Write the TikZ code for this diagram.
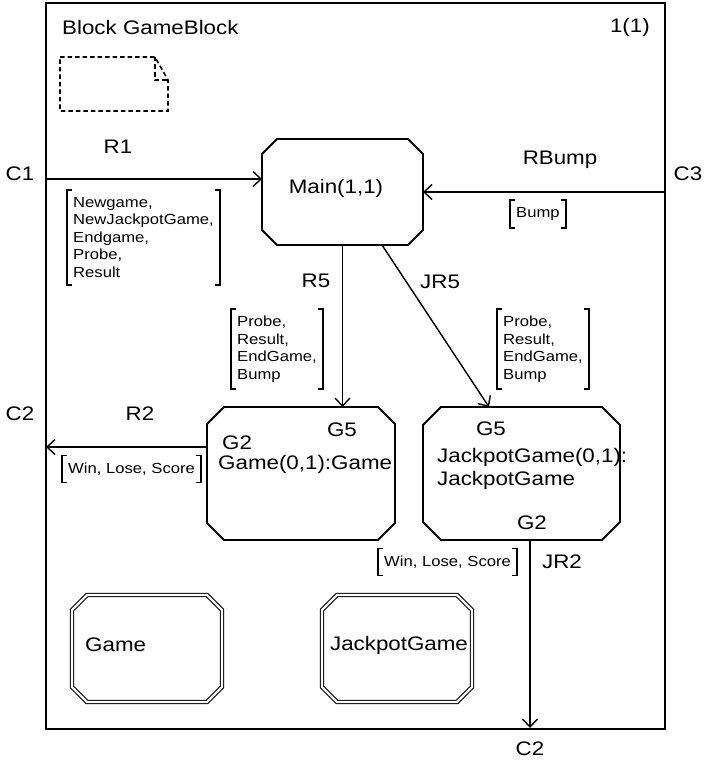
\documentclass[tikz,border=0pt]{standalone}
\usepackage{fontspec}
\setmainfont{Liberation Sans}[FakeStretch=1.14]
\usetikzlibrary{arrows.meta}
\newcommand\octdraw[3][]{%
  \draw[#1] ([xshift=#3pt]#2.north west) -- ([xshift=-#3pt]#2.north east)
    -- ([yshift=-#3pt]#2.north east) -- ([yshift=#3pt]#2.south east)
    -- ([xshift=-#3pt]#2.south east) -- ([xshift=#3pt]#2.south west)
    -- ([yshift=#3pt]#2.south west) -- ([yshift=-#3pt]#2.north west) -- cycle;}
\newcommand\sigbrackets[1]{%
  \draw[brk] ([xshift=5pt]#1.north west) -- (#1.north west) -- (#1.south west) -- ([xshift=5pt]#1.south west);
  \draw[brk] ([xshift=-5pt]#1.north east) -- (#1.north east) -- (#1.south east) -- ([xshift=-5pt]#1.south east);}
\tikzset{
  big/.style={font=\fontsize{19.6}{22}\selectfont, inner sep=0pt},
  small/.style={font=\fontsize{14.6}{17.5}\selectfont},
  boxline/.style={line width=1.8pt, line join=miter},
  dbl/.style={double, line width=1.1pt, double distance=2.2pt},
  frameline/.style={line width=2pt},
  sig/.style={line width=1.4pt, -{Straight Barb[length=8pt,width=15pt]}},
  siglist/.style={small, align=left, inner xsep=6pt, inner ysep=7pt, anchor=west},
  brk/.style={line width=1.6pt},
  area/.style={draw=none, inner sep=0pt, outer sep=0pt},
  notebox/.style={line width=1.6pt, dash pattern=on 4.5pt off 3pt},
}
\begin{document}
\begin{tikzpicture}[x=1pt,y=-1pt]
\fill[white] (0,0) rectangle (709,760);
\useasboundingbox (0,0) rectangle (709,760);
% frame
\node[draw, frameline, area, draw, minimum width=619pt, minimum height=725pt] (frame) at (355.5,366) {};
\node[big, anchor=west] (title) at (62,27) {Block GameBlock};
\node[big, anchor=east] (page) at (650,27) {1(1)};
% note symbol
\draw[notebox] (60,57) -- (155,57) -- (168,80) -- (168,111) -- (60,111) -- cycle;
\draw[notebox] (155,57) -- (155,80) -- (168,80);
% process and block areas
\node[area, minimum width=161pt, minimum height=106pt] (main) at (342.5,192) {};
\node[area, minimum width=188pt, minimum height=133pt] (game) at (301,473.5) {};
\node[area, minimum width=197pt, minimum height=133pt] (jack) at (521.5,473.5) {};
\node[area, minimum width=150pt, minimum height=107pt] (gcls) at (147,648.5) {};
\node[area, minimum width=150pt, minimum height=107pt] (jcls) at (397,648.5) {};
\octdraw[boxline]{main}{15}
\octdraw[boxline]{game}{17}
\octdraw[boxline]{jack}{18}
\octdraw[dbl]{gcls}{15}
\octdraw[dbl]{jcls}{15}
% texts in boxes
\node[big] (maintxt) at (336,188) {Main(1,1)};
\node[big] (gG5) at (342,430) {G5};
\node[big, anchor=west] (gG2) at (222,443) {G2};
\node[big, anchor=west] (gname) at (218,464) {Game(0,1):Game};
\node[big] (jG5) at (491,429) {G5};
\node[big, anchor=west] (jname1) at (437,457) {JackpotGame(0,1):};
\node[big, anchor=west] (jname2) at (437,480) {JackpotGame};
\node[big] (jG2) at (532,523) {G2};
\node[big, anchor=west] (gclstxt) at (85,645) {Game};
\node[big] (jclstxt) at (399,645) {JackpotGame};
% channel end points
\coordinate (c1p) at (46,179);
\coordinate (c3p) at (665,192);
\coordinate (c2p) at (46,447);
\coordinate (c2b) at (530,728);
% connectors
\draw[sig] (c1p) -- (c1p -| main.west);
\draw[sig] (c3p) -- (c3p -| main.east);
\draw[sig] (main.south) -- (main.south |- game.north);
\draw[sig] ([xshift=39.5pt]main.south) -- ([xshift=-32.5pt]jack.north);
\draw[sig] (c2p -| game.west) -- (c2p);
\draw[sig] (jack.south -| c2b) -- (c2b);
% channel names
\node[big] (C1) at (20,174) {C1};
\node[big] (R1) at (118,147) {R1};
\node[big] (RBump) at (560,160) {RBump};
\node[big] (C3) at (688,174) {C3};
\node[big] (R5) at (316,281) {R5};
\node[big, anchor=west] (JR5) at (420,282) {JR5};
\node[big] (R2) at (140,414) {R2};
\node[big] (C2a) at (20,414) {C2};
\node[big] (JR2) at (562,562) {JR2};
\node[big] (C2b) at (530,749) {C2};
% signal lists
\node[siglist] (s1) at (67,237.5) {Newgame,\\NewJackpotGame,\\Endgame,\\Probe,\\Result};
\node[siglist] (sbump) at (510,214) {Bump};
\node[siglist] (s5) at (231,349) {Probe,\\Result,\\EndGame,\\Bump};
\node[siglist] (sj5) at (497,349) {Probe,\\Result,\\EndGame,\\Bump};
\node[siglist] (s2) at (62,469) {Win, Lose, Score};
\node[siglist] (sj2) at (378,562) {Win, Lose, Score};
\sigbrackets{s1}
\sigbrackets{sbump}
\sigbrackets{s5}
\sigbrackets{sj5}
\sigbrackets{s2}
\sigbrackets{sj2}
\end{tikzpicture}
\end{document}
